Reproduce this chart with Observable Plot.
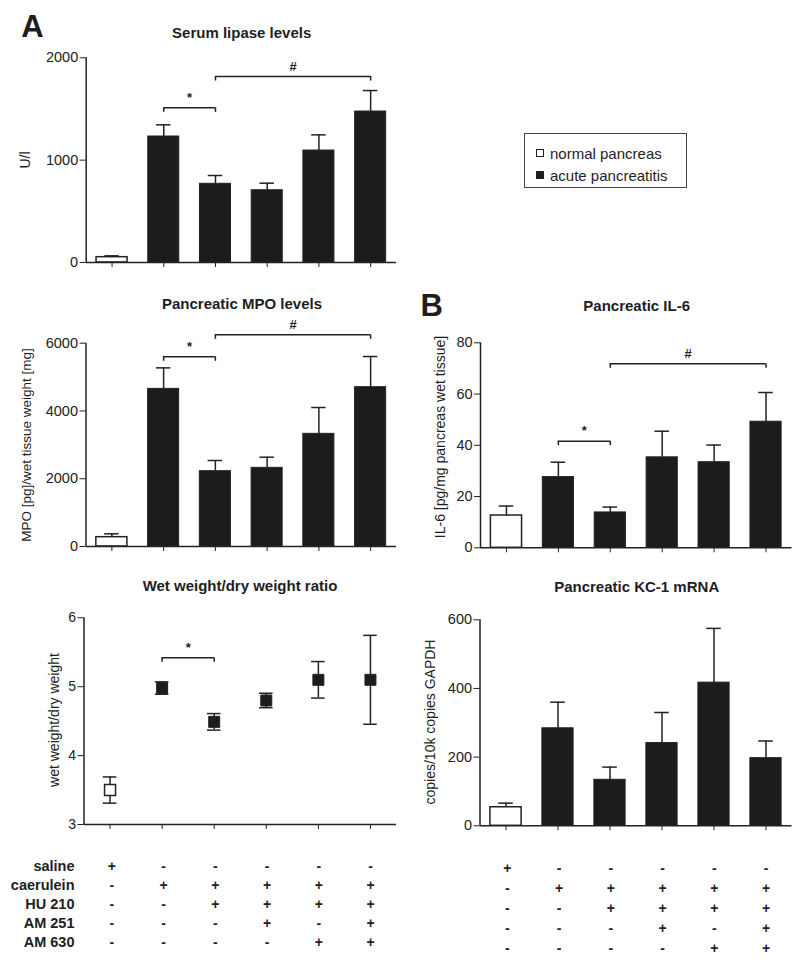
<!DOCTYPE html>
<html><head><meta charset="utf-8">
<script src="https://cdn.jsdelivr.net/npm/d3@7"></script>
<script src="https://cdn.jsdelivr.net/npm/@observablehq/plot@0.6"></script>
<style>
html,body{margin:0;padding:0;background:#fff;}
#fig{position:relative;width:800px;height:962px;font-family:"Liberation Sans",Arial,Helvetica,sans-serif;color:#1e1e1e;overflow:hidden;background:#fff;}
.abs{position:absolute;}
.title{position:absolute;font-weight:bold;font-size:15px;line-height:1;transform:translate(-50%,-50%);white-space:nowrap;}
.ylab{position:absolute;font-size:14px;line-height:1;transform:translate(-50%,-50%) rotate(-90deg);white-space:nowrap;}
.letter{position:absolute;font-weight:bold;font-size:31px;line-height:1;transform:translate(-50%,-50%);}
</style></head>
<body><div id="fig"></div>
<script>
// ---- categories ----
const groups = ["saline", "caerulein", "caerulein + HU 210", "caerulein + HU 210 + AM 251", "caerulein + HU 210 + AM 630", "caerulein + HU 210 + AM 251 + AM 630"];
const status = ["normal pancreas", "acute pancreatitis", "acute pancreatitis", "acute pancreatitis", "acute pancreatitis", "acute pancreatitis"];
const legendLabels = ["normal pancreas", "acute pancreatitis"];

// ---- treatment table ----
const tableRows = ["saline", "caerulein", "HU 210", "AM 251", "AM 630"];
const salineSigns    = ["+", "-", "-", "-", "-", "-"];
const caeruleinSigns = ["-", "+", "+", "+", "+", "+"];
const hu210Signs     = ["-", "-", "+", "+", "+", "+"];
const am251Signs     = ["-", "-", "-", "+", "-", "+"];
const am630Signs     = ["-", "-", "-", "-", "+", "+"];

// ---- series values (mean, SEM) ----
const lipaseMean = [52, 1231, 769, 706, 1094, 1475];
const lipaseSem  = [13, 114, 81, 69, 153, 205];
const lipaseTicks = [0, 1000, 2000];
const lipaseBrackets = [{from: 1, to: 2, y: 1511, label: "*"}, {from: 2, to: 5, y: 1817, label: "#"}];

const mpoMean = [275, 4652, 2223, 2321, 3325, 4702];
const mpoSem  = [99, 620, 315, 315, 777, 905];
const mpoTicks = [0, 2000, 4000, 6000];
const mpoBrackets = [{from: 1, to: 2, y: 5599, label: "*"}, {from: 2, to: 5, y: 6248, label: "#"}];

const ratioMean = [3.50, 4.98, 4.49, 4.80, 5.10, 5.10];
const ratioSem  = [0.19, 0.09, 0.12, 0.105, 0.265, 0.645];
const ratioTicks = [3, 4, 5, 6];
const ratioBrackets = [{from: 1, to: 2, y: 5.42, label: "*"}];

const il6Mean = [12.6, 27.6, 13.8, 35.3, 33.4, 49.2];
const il6Sem  = [3.7, 5.8, 2.1, 10.2, 6.7, 11.4];
const il6Ticks = [0, 20, 40, 60, 80];
const il6Brackets = [{from: 1, to: 2, y: 41.6, label: "*"}, {from: 2, to: 5, y: 71.8, label: "#"}];

const kcMean = [54, 284, 134, 241, 417, 197];
const kcSem  = [12, 76, 37, 89, 158, 50];
const kcTicks = [0, 200, 400, 600];

// ---- rendering ----
const ink = "#222";
const barFill = "#1c1c1c";
const fig = document.getElementById("fig");

function place(el, left, top, width) {
  const d = document.createElement("div");
  d.className = "abs";
  d.style.left = left + "px"; d.style.top = top + "px"; d.style.width = width + "px";
  d.appendChild(el);
  fig.appendChild(d);
}
function addText(cls, txt, x, y, extra) {
  const d = document.createElement("div");
  d.className = cls; d.textContent = txt;
  d.style.left = x + "px"; d.style.top = y + "px";
  if (extra) Object.assign(d.style, extra);
  fig.appendChild(d);
}
const baseStyle = {fontFamily: "'Liberation Sans', Arial, sans-serif", fontSize: "14.5px", background: "none", overflow: "visible", color: ink};

function rows(mean, sem) {
  return groups.map((g, i) => ({i, g, normal: status[i] === legendLabels[0], mean: mean[i], lo: mean[i] - sem[i], hi: mean[i] + sem[i]}));
}
function bracketMarks(brackets) {
  if (!brackets) return [];
  const ends = brackets.flatMap(b => [{x: b.from, y: b.y}, {x: b.to, y: b.y}]);
  return [
    Plot.ruleY(brackets, {y: "y", x1: "from", x2: "to", stroke: ink, strokeWidth: 1.5}),
    Plot.ruleX(ends, {x: "x", y1: "y", y2: "y", insetBottom: -4.5, stroke: ink, strokeWidth: 1.5}),
    Plot.text(brackets, {x: d => (d.from + d.to) / 2, y: "y", text: "label", dy: -10, fontWeight: "bold", fontSize: 13, fill: ink})
  ];
}
function frameOpts(o) {
  return {
    width: o.width, height: o.height, marginLeft: o.mL, marginRight: o.mR, marginTop: o.mT, marginBottom: o.mB,
    style: Object.assign({}, baseStyle, o.fontSize ? {fontSize: o.fontSize} : {}),
    x: {domain: [-0.5, groups.length - 0.5], ticks: groups.map((g, i) => i), tickSize: 5, tickFormat: () => "", label: null},
    y: {domain: o.domain, ticks: o.ticks, tickSize: 6, tickPadding: 2, tickFormat: d => String(d), label: null}
  };
}
function barPanel(o) {
  const data = rows(o.mean, o.sem);
  const p = Plot.plot(Object.assign(frameOpts(o), {
    marks: [
      Plot.ruleX(data, {x: "i", y1: "mean", y2: "hi", stroke: ink, strokeWidth: 1.5}),
      Plot.ruleY(data, {y: "hi", x1: d => d.i - 0.14, x2: d => d.i + 0.14, stroke: ink, strokeWidth: 1.5}),
      Plot.rect(data.filter(d => !d.normal), {x1: d => d.i - 0.3, x2: d => d.i + 0.3, y1: () => o.domain[0], y2: "mean", fill: barFill, stroke: ink, strokeWidth: 1}),
      Plot.rect(data.filter(d => d.normal), {x1: d => d.i - 0.3, x2: d => d.i + 0.3, y1: () => o.domain[0], y2: "mean", fill: "white", stroke: ink, strokeWidth: 1.5}),
      Plot.ruleY([o.domain[0]], {stroke: ink, strokeWidth: 1.5}),
      Plot.ruleX([-0.5], {stroke: ink, strokeWidth: 1.5}),
      ...bracketMarks(o.brackets)
    ]
  }));
  place(p, o.left, o.top, o.width);
}
function dotPanel(o) {
  const data = rows(o.mean, o.sem);
  const p = Plot.plot(Object.assign(frameOpts(o), {
    marks: [
      Plot.ruleX(data, {x: "i", y1: "lo", y2: "hi", stroke: ink, strokeWidth: 1.5}),
      Plot.ruleY(data, {y: "hi", x1: d => d.i - 0.13, x2: d => d.i + 0.13, stroke: ink, strokeWidth: 1.5}),
      Plot.ruleY(data, {y: "lo", x1: d => d.i - 0.13, x2: d => d.i + 0.13, stroke: ink, strokeWidth: 1.5}),
      Plot.dot(data.filter(d => !d.normal), {x: "i", y: "mean", symbol: "square", r: 6.2, fill: barFill, stroke: ink, strokeWidth: 1}),
      Plot.dot(data.filter(d => d.normal), {x: "i", y: "mean", symbol: "square", r: 6.2, fill: "white", stroke: ink, strokeWidth: 1.5}),
      Plot.ruleY([o.domain[0]], {stroke: ink, strokeWidth: 1.5}),
      Plot.ruleX([-0.5], {stroke: ink, strokeWidth: 1.5}),
      ...bracketMarks(o.brackets)
    ]
  }));
  place(p, o.left, o.top, o.width);
}
function tablePanel(o) {
  const signs = [salineSigns, caeruleinSigns, hu210Signs, am251Signs, am630Signs];
  const cells = tableRows.flatMap((r, ri) => signs[ri].map((s, i) => ({row: r, i, s})));
  const p = Plot.plot({
    width: o.width, height: o.height, marginLeft: o.mL, marginRight: o.mR, marginTop: o.mT, marginBottom: o.mB,
    style: Object.assign({}, baseStyle, {fontWeight: "bold", fontSize: "14.5px"}),
    x: {domain: [-0.5, groups.length - 0.5], axis: null},
    y: o.labels
      ? {type: "point", domain: tableRows, padding: 0, tickSize: 0, tickPadding: 11.5, label: null}
      : {type: "point", domain: tableRows, padding: 0, axis: null},
    marks: [
      Plot.text(cells, {x: "i", y: "row", text: "s", fontWeight: "bold", fontSize: 14, fill: ink})
    ]
  });
  place(p, o.left, o.top, o.width);
}

barPanel({mean: lipaseMean, sem: lipaseSem, domain: [0, 2000], ticks: lipaseTicks, brackets: lipaseBrackets,
  left: 0, top: 40, width: 410, height: 237, mL: 85.7, mR: 14, mT: 17.3, mB: 15});
barPanel({mean: mpoMean, sem: mpoSem, domain: [0, 6000], ticks: mpoTicks, brackets: mpoBrackets,
  left: 0, top: 315, width: 410, height: 246, mL: 85.5, mR: 14, mT: 27.7, mB: 15});
dotPanel({mean: ratioMean, sem: ratioSem, domain: [3, 6], ticks: ratioTicks, brackets: ratioBrackets, fontSize: "14px",
  left: 0, top: 600, width: 410, height: 239, mL: 83.5, mR: 14, mT: 17.3, mB: 15});
barPanel({mean: il6Mean, sem: il6Sem, domain: [0, 80], ticks: il6Ticks, brackets: il6Brackets,
  left: 420, top: 330, width: 380, height: 232.3, mL: 60, mR: 8.5, mT: 12.3, mB: 15});
barPanel({mean: kcMean, sem: kcSem, domain: [0, 600], ticks: kcTicks,
  left: 420, top: 605, width: 380, height: 235.3, mL: 59.5, mR: 8.5, mT: 14.3, mB: 15});
tablePanel({labels: true, left: 0, top: 850, width: 410, height: 110, mL: 85.5, mR: 14, mT: 15.5, mB: 17.5});
tablePanel({labels: false, left: 420, top: 850, width: 380, height: 110, mL: 61, mR: 8.5, mT: 17, mB: 12});

// titles, letters, axis labels
addText("letter", "A", 32.5, 26);
addText("letter", "B", 431.7, 305);
addText("title", "Serum lipase levels", 241.7, 31.7);
addText("title", "Pancreatic MPO levels", 242, 303.3);
addText("title", "Wet weight/dry weight ratio", 240, 585);
addText("title", "Pancreatic IL-6", 636.7, 305);
addText("title", "Pancreatic KC-1 mRNA", 636.7, 586);
addText("ylab", "U/l", 25.3, 160);
addText("ylab", "MPO [pg]/wet tissue weight [mg]", 27, 445, {fontSize: "13.5px"});
addText("ylab", "wet weight/dry weight", 54, 720);
addText("ylab", "IL-6 [pg/mg pancreas wet tissue]", 440, 437);
addText("ylab", "copies/10k copies GAPDH", 430, 721.7);

// legend
const lg = document.createElement("div");
lg.className = "abs";
Object.assign(lg.style, {left: "524px", top: "133px", width: "163px", height: "55px", border: "1.5px solid #444", boxSizing: "border-box"});
legendLabels.forEach((lab, k) => {
  const row = document.createElement("div");
  Object.assign(row.style, {position: "absolute", left: "11px", top: (k === 0 ? 10 : 32) + "px", height: "18px", display: "flex", alignItems: "center", fontSize: "15px", whiteSpace: "nowrap"});
  const sw = document.createElement("span");
  Object.assign(sw.style, {display: "inline-block", width: "8px", height: "8px", boxSizing: "border-box", border: "1px solid #222", background: k === 0 ? "#fff" : barFill, marginRight: "6px"});
  const tx = document.createElement("span");
  tx.textContent = lab;
  row.appendChild(sw); row.appendChild(tx);
  lg.appendChild(row);
});
fig.appendChild(lg);
</script>
</body></html>
